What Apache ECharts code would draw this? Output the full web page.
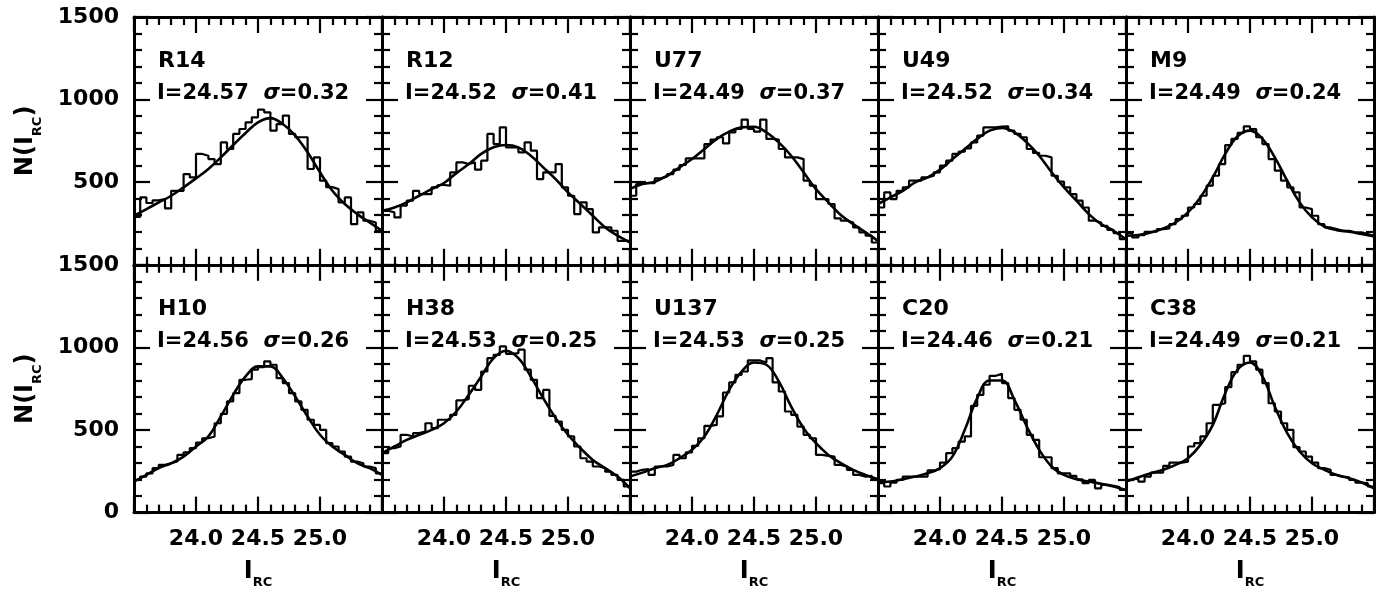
<!DOCTYPE html>
<html>
<head>
<meta charset="utf-8">
<script src="https://cdn.jsdelivr.net/npm/echarts@6/dist/echarts.min.js"></script>
<style>
  html, body { margin: 0; padding: 0; background: #fff; }
  #chart { width: 1395px; height: 595px; }
</style>
</head>
<body>
<div id="chart"></div>
<script>
// fields, fitted peak and width, as written in each panel
const fieldNames = ['R14', 'R12', 'U77', 'U49', 'M9', 'H10', 'H38', 'U137', 'C20', 'C38']
const peakMag = ['24.57', '24.52', '24.49', '24.52', '24.49', '24.56', '24.53', '24.53', '24.46', '24.49']
const peakSigma = ['0.32', '0.41', '0.37', '0.34', '0.24', '0.26', '0.25', '0.25', '0.21', '0.21']

// histogram counts, 40 bins of 0.05 mag from 23.5 to 25.5
const BIN_LO = 23.5
const BIN_W = 0.05
const histR14 = [290, 408, 374, 390, 398, 341, 448, 448, 549, 529, 671, 660, 640, 610, 741, 701, 792, 822, 862, 893, 939, 923, 812, 852, 903, 792, 772, 772, 580, 650, 509, 470, 458, 378, 408, 246, 317, 267, 256, 206]
const histR12 = [327, 317, 287, 358, 388, 448, 428, 428, 469, 483, 479, 559, 620, 610, 620, 576, 630, 792, 731, 832, 711, 711, 681, 741, 691, 519, 559, 559, 610, 469, 418, 307, 378, 337, 196, 226, 226, 206, 145, 145]
const histU77 = [418, 489, 495, 495, 523, 535, 549, 576, 604, 644, 644, 644, 731, 758, 772, 735, 802, 822, 879, 822, 806, 879, 762, 758, 701, 650, 650, 640, 509, 479, 398, 398, 368, 281, 267, 256, 226, 196, 176, 135]
const histU49 = [347, 438, 398, 448, 469, 509, 509, 529, 539, 560, 600, 630, 671, 685, 705, 741, 782, 832, 832, 836, 838, 812, 792, 772, 701, 677, 660, 650, 539, 503, 469, 428, 388, 347, 267, 256, 236, 212, 192, 155]
const histM9 = [192, 166, 180, 200, 200, 216, 220, 246, 277, 297, 347, 368, 418, 479, 539, 610, 725, 762, 798, 838, 822, 772, 731, 640, 570, 509, 469, 438, 347, 337, 297, 246, 226, 216, 206, 206, 196, 196, 186, 176]
const histH10 = [198, 218, 238, 269, 289, 299, 309, 349, 364, 390, 424, 450, 461, 541, 598, 673, 723, 804, 808, 865, 881, 915, 895, 814, 784, 723, 673, 622, 562, 531, 501, 420, 400, 370, 339, 309, 299, 279, 269, 238]
const histH38 = [360, 390, 400, 471, 461, 481, 491, 541, 511, 562, 562, 592, 679, 687, 768, 743, 854, 935, 955, 1006, 961, 965, 986, 865, 804, 693, 743, 586, 551, 501, 461, 400, 329, 309, 279, 269, 248, 228, 198, 158]
const histU137 = [248, 259, 263, 228, 279, 279, 289, 349, 329, 364, 404, 450, 525, 531, 582, 727, 788, 834, 854, 921, 921, 909, 935, 788, 733, 612, 592, 521, 471, 450, 349, 343, 339, 289, 279, 259, 228, 218, 222, 198]
const histC20 = [178, 158, 182, 198, 218, 218, 218, 218, 255, 263, 303, 360, 390, 430, 461, 646, 713, 774, 828, 840, 784, 693, 622, 562, 471, 440, 335, 335, 269, 238, 238, 222, 202, 178, 198, 147, 168, 162, 154, 137]
const histC38 = [198, 208, 188, 218, 242, 242, 283, 303, 303, 309, 400, 420, 461, 541, 652, 662, 760, 850, 895, 949, 915, 865, 784, 662, 612, 541, 501, 396, 370, 339, 303, 269, 259, 228, 218, 214, 198, 182, 178, 158]

// fitted curves, read every 0.1 mag
const fitMags = [23.5, 23.6, 23.7, 23.8, 23.9, 24.0, 24.1, 24.2, 24.3, 24.4, 24.5, 24.6, 24.7, 24.8, 24.9, 25.0, 25.1, 25.2, 25.3, 25.4, 25.5]
const fitR14 = [297, 337, 378, 418, 469, 523, 580, 650, 725, 798, 862, 888, 852, 782, 681, 560, 448, 368, 307, 256, 206]
const fitR12 = [327, 347, 378, 418, 458, 495, 555, 610, 671, 711, 725, 711, 660, 590, 519, 438, 368, 297, 226, 176, 135]
const fitU77 = [460, 489, 503, 539, 590, 640, 701, 762, 806, 832, 836, 802, 741, 660, 560, 458, 378, 301, 246, 196, 145]
const fitU49 = [368, 408, 448, 499, 529, 576, 640, 701, 762, 812, 828, 802, 741, 660, 560, 469, 388, 307, 246, 206, 155]
const fitM9 = [176, 180, 196, 220, 256, 317, 408, 529, 671, 778, 812, 762, 650, 509, 378, 287, 232, 210, 200, 186, 172]
const fitH10 = [188, 228, 269, 299, 339, 400, 461, 582, 713, 824, 885, 885, 814, 703, 582, 471, 400, 349, 299, 269, 228]
const fitH38 = [360, 400, 440, 471, 501, 541, 612, 713, 824, 935, 980, 935, 824, 693, 572, 471, 390, 319, 269, 218, 147]
const fitU137 = [218, 242, 269, 289, 329, 380, 461, 592, 743, 854, 909, 895, 794, 642, 511, 420, 349, 299, 259, 228, 202]
const fitC20 = [182, 188, 202, 218, 238, 269, 339, 501, 693, 800, 800, 683, 521, 380, 279, 228, 202, 188, 174, 158, 137]
const fitC38 = [188, 214, 238, 259, 289, 329, 410, 531, 723, 865, 909, 824, 642, 481, 370, 299, 259, 228, 208, 182, 147]

const hists = [histR14, histR12, histU77, histU49, histM9, histH10, histH38, histU137, histC20, histC38]
const fits = [fitR14, fitR12, fitU77, fitU49, fitM9, fitH10, fitH38, fitU137, fitC20, fitC38]

const X_MIN = 23.5
const X_MAX = 25.5
const Y_MAX = 1500
const FONT = 'DejaVu Sans'
const PANEL_W = 248
const PANEL_H = 247.8

const panelLeft = p => 134 + PANEL_W * (p % 5)
const panelTop = p => (p < 5 ? 17 : 264.8)

const subRich = {
  sub: { fontSize: 13, fontWeight: 'bold', fontFamily: FONT, color: '#000', verticalAlign: 'bottom', lineHeight: 14 },
  main: { fontSize: 24, fontWeight: 'bold', fontFamily: FONT, color: '#000', lineHeight: 36 }
}

function xAxisFor(p, pos) {
  const showLab = pos === 'bottom' && p >= 5
  return {
    type: 'value',
    gridIndex: p,
    position: pos,
    min: X_MIN,
    max: X_MAX,
    interval: 0.5,
    axisLine: { show: true, onZero: false, lineStyle: { color: '#000', width: 3 } },
    axisTick: { show: true, inside: true, length: 16, lineStyle: { color: '#000', width: 2.2 } },
    minorTick: { show: true, splitNumber: 5, length: 8, lineStyle: { color: '#000', width: 2.2 } },
    splitLine: { show: false },
    minorSplitLine: { show: false },
    axisLabel: {
      show: showLab,
      margin: 16,
      color: '#000',
      fontSize: 22,
      fontWeight: 'bold',
      fontFamily: FONT,
      formatter: v => (v > X_MIN + 0.01 && v < X_MAX - 0.01 ? v.toFixed(1) : '')
    },
    name: showLab ? '{main|I}{sub|RC}' : '',
    nameLocation: 'middle',
    nameGap: 41,
    nameTextStyle: { fontSize: 24, rich: subRich }
  }
}

function yAxisFor(p, pos) {
  const showLab = pos === 'left' && p % 5 === 0
  const topRow = p < 5
  return {
    type: 'value',
    gridIndex: p,
    position: pos,
    min: 0,
    max: Y_MAX,
    interval: 500,
    axisLine: { show: true, onZero: false, lineStyle: { color: '#000', width: 3 } },
    axisTick: { show: true, inside: true, length: 16, lineStyle: { color: '#000', width: 2.2 } },
    minorTick: { show: true, splitNumber: 5, length: 8, lineStyle: { color: '#000', width: 2.2 } },
    splitLine: { show: false },
    minorSplitLine: { show: false },
    axisLabel: {
      show: showLab,
      margin: 15,
      color: '#000',
      fontSize: 22,
      fontWeight: 'bold',
      fontFamily: FONT,
      formatter: v => (topRow && v === 0 ? '' : String(v))
    },
    name: showLab ? '{main|N(I}{sub|RC}{main|)}' : '',
    nameLocation: 'middle',
    nameRotate: 90,
    nameGap: 90,
    nameTextStyle: { fontSize: 24, rich: subRich }
  }
}

const grids = []
const xAxes = []
const yAxes = []
const series = []
const graphics = []

for (let p = 0; p < 10; p++) {
  grids.push({
    left: panelLeft(p),
    top: panelTop(p),
    width: PANEL_W,
    height: PANEL_H,
    containLabel: false,
    outerBoundsMode: 'none'
  })
  xAxes.push(xAxisFor(p, 'bottom'), xAxisFor(p, 'top'))
  yAxes.push(yAxisFor(p, 'left'), yAxisFor(p, 'right'))

  const h = hists[p]
  const stepData = h.map((v, i) => [BIN_LO + i * BIN_W, v])
  stepData.push([BIN_LO + h.length * BIN_W, h[h.length - 1]])

  series.push({
    type: 'line',
    xAxisIndex: 2 * p,
    yAxisIndex: 2 * p,
    data: stepData,
    step: 'end',
    symbol: 'none',
    lineStyle: { color: '#000', width: 2.2 },
    z: 3
  })
  series.push({
    type: 'line',
    xAxisIndex: 2 * p,
    yAxisIndex: 2 * p,
    data: fitMags.map((m, i) => [m, fits[p][i]]),
    smooth: 0.4,
    symbol: 'none',
    lineStyle: { color: '#000', width: 2.6 },
    z: 4
  })

  graphics.push({
    type: 'text',
    x: panelLeft(p) + 24,
    y: panelTop(p) + 44.5,
    style: { text: fieldNames[p], fontSize: 22, fontWeight: 'bold', fontFamily: FONT, fill: '#000', verticalAlign: 'middle' }
  })
  graphics.push({
    type: 'text',
    x: panelLeft(p) + 23,
    y: panelTop(p) + 77,
    style: {
      text: 'I=' + peakMag[p] + '  {s|σ}=' + peakSigma[p],
      fontSize: 21,
      fontWeight: 'bold',
      fontFamily: FONT,
      fill: '#000',
      verticalAlign: 'middle',
      rich: { s: { fontSize: 21, fontWeight: 'bold', fontFamily: FONT, fontStyle: 'italic', fill: '#000' } }
    }
  })
}

const chart = echarts.init(document.getElementById('chart'))
chart.setOption({
  animation: false,
  backgroundColor: '#fff',
  grid: grids,
  xAxis: xAxes,
  yAxis: yAxes,
  series,
  graphic: graphics
})
</script>
</body>
</html>
